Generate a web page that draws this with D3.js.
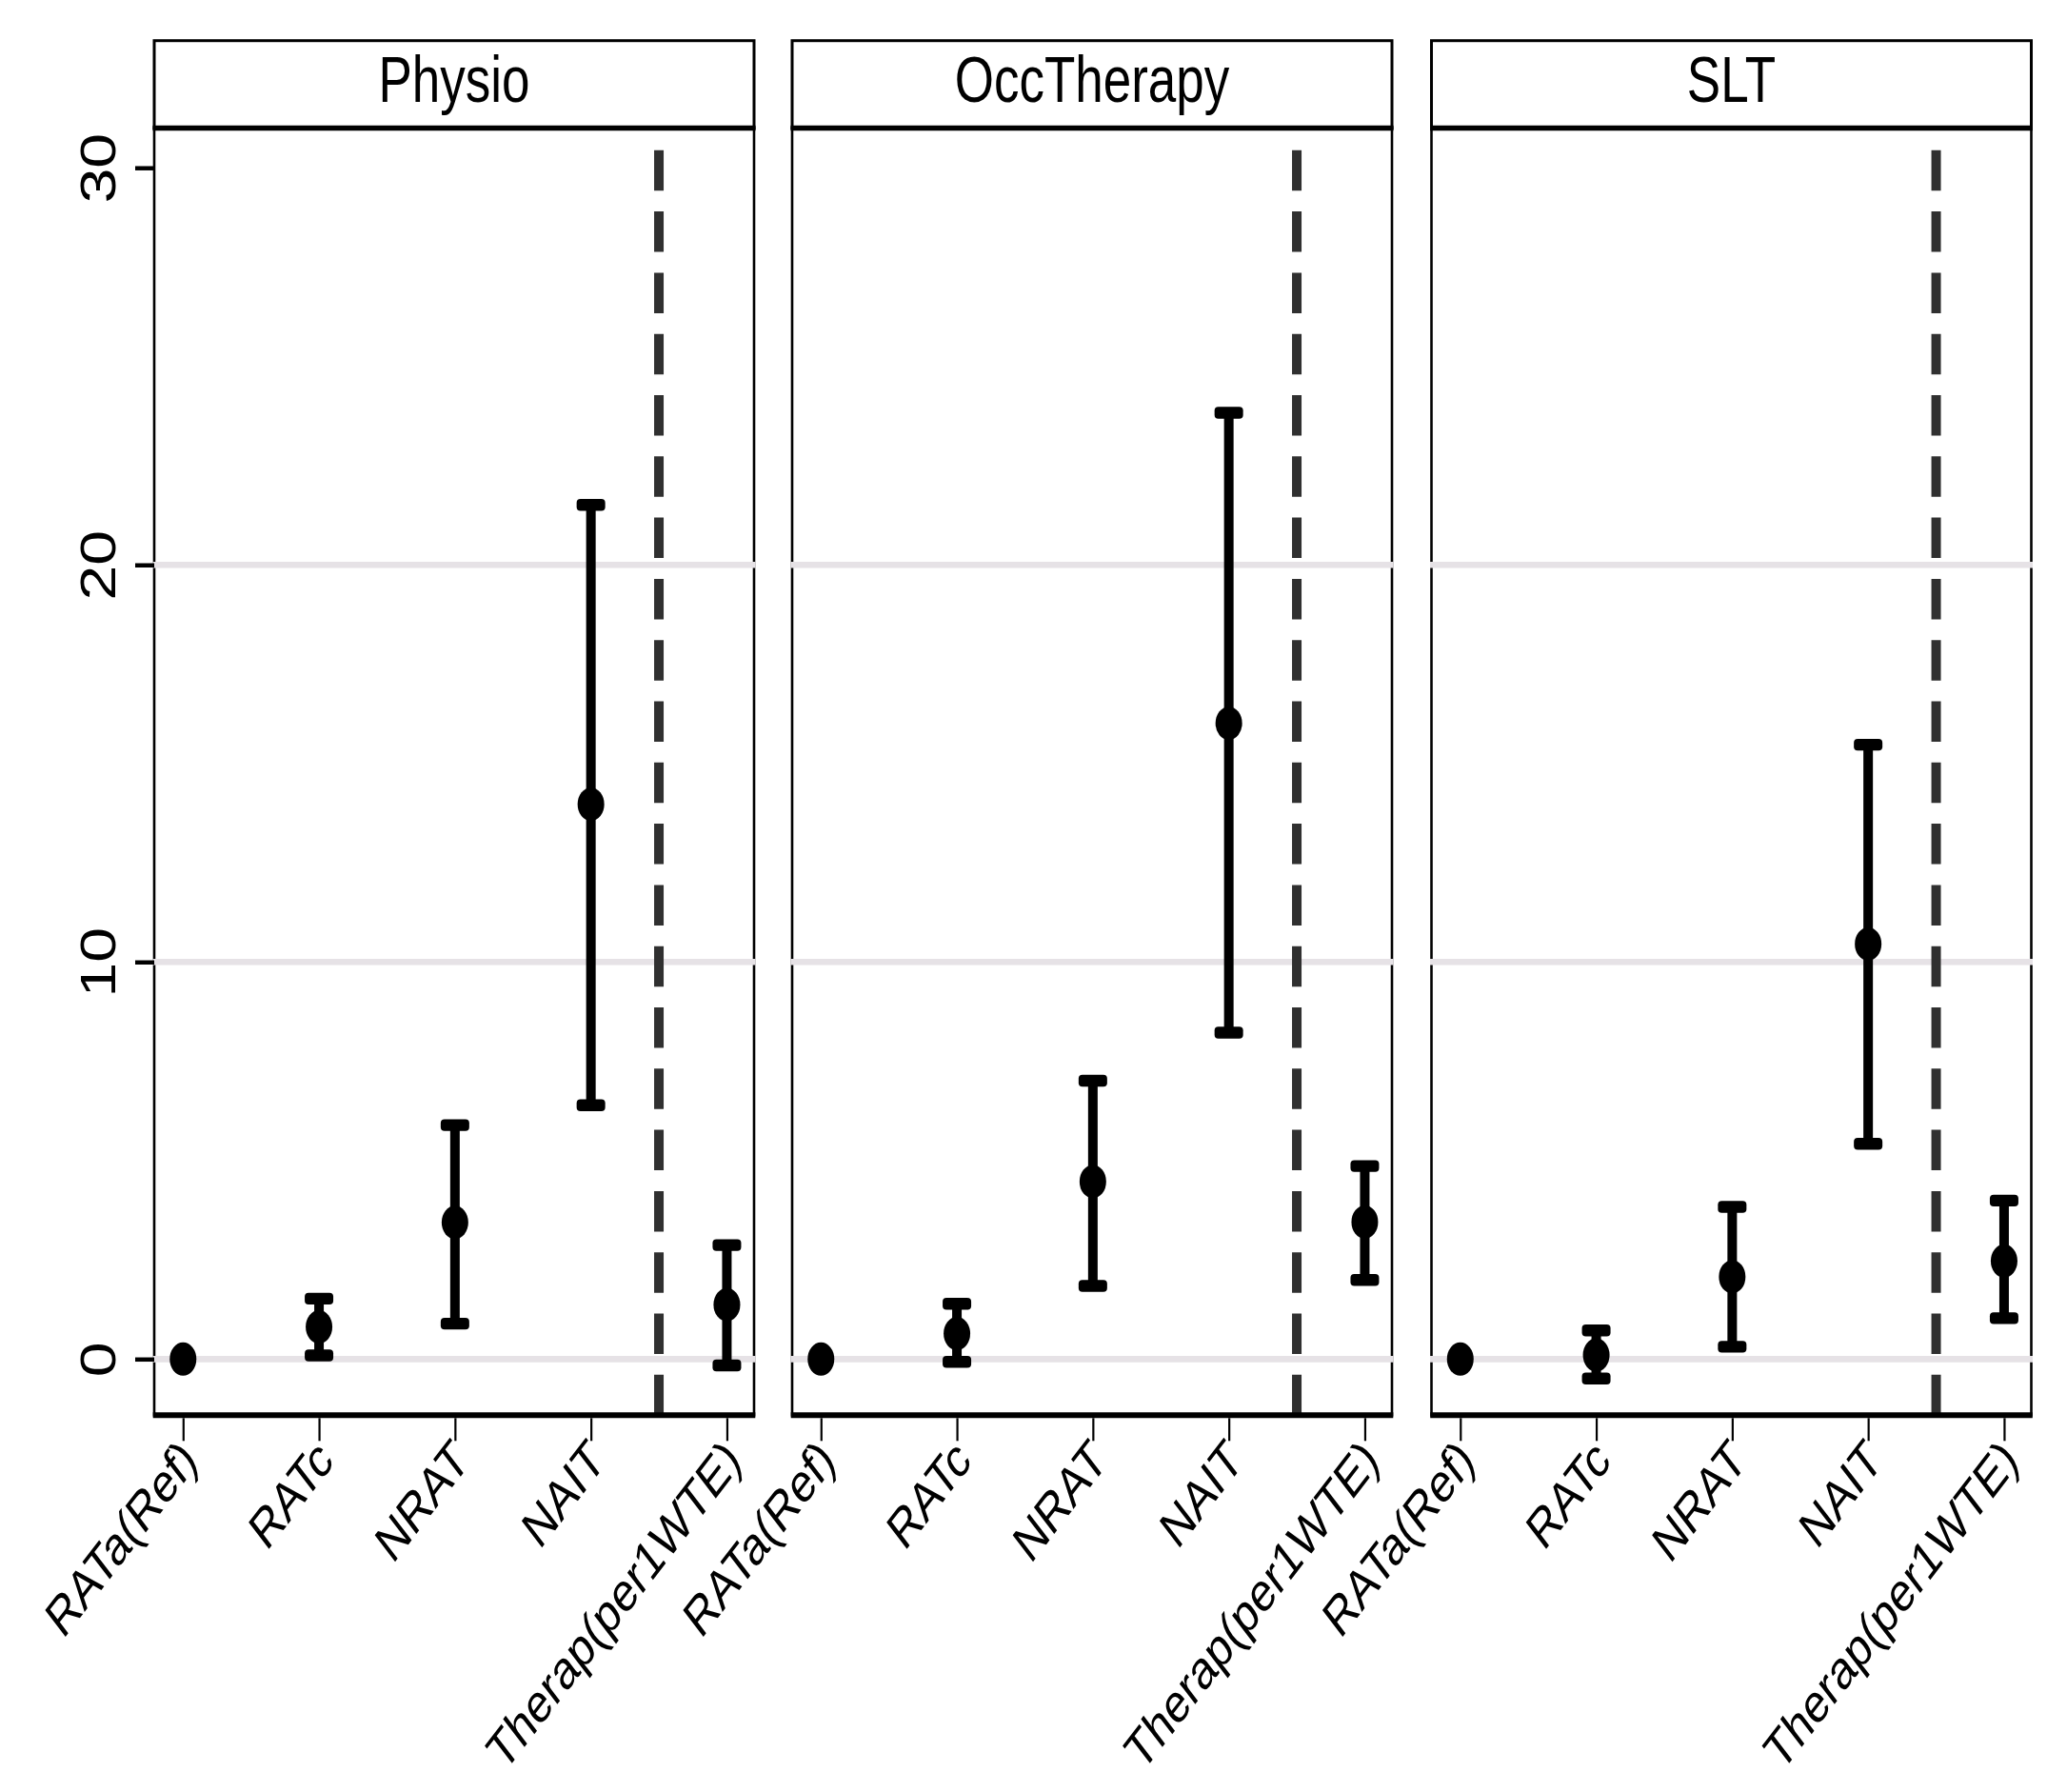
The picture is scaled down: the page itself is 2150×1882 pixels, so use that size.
<!DOCTYPE html>
<html>
<head>
<meta charset="utf-8">
<script src="https://cdn.jsdelivr.net/npm/d3@7/dist/d3.min.js"></script>
<style>
  html, body { margin: 0; padding: 0; background: #ffffff; }
  svg { display: block; }
  text { font-family: "Liberation Sans", Arial, Helvetica, sans-serif; fill: #000; }
</style>
</head>
<body>
<svg id="chart" width="2150" height="1882"></svg>
<script>
// ---------------- data ----------------
const panels = ["Physio", "OccTherapy", "SLT"];
const categories = ["RATa(Ref)", "RATc", "NRAT", "NAIT", "Therap(per1WTE)"];

const estPhysio  = [0, 0.81, 3.44, 13.97, 1.37];
const lowPhysio  = [null, 0.09, 0.89, 6.39, -0.16];
const highPhysio = [null, 1.52, 5.89, 21.51, 2.87];

const estOcc  = [0, 0.64, 4.47, 16.01, 3.45];
const lowOcc  = [null, -0.07, 1.84, 8.22, 1.99];
const highOcc = [null, 1.39, 7.01, 23.83, 4.86];

const estSLT  = [0, 0.10, 2.07, 10.45, 2.47];
const lowSLT  = [null, -0.49, 0.31, 5.42, 1.03];
const highSLT = [null, 0.72, 3.83, 15.47, 3.99];

const yTicks = [0, 10, 20, 30];
const gridValues = [0, 10, 20];
const dividerPosition = 3.5; // dashed separator between NAIT and Therap

const panelData = [
  { name: panels[0], est: estPhysio, low: lowPhysio, high: highPhysio },
  { name: panels[1], est: estOcc, low: lowOcc, high: highOcc },
  { name: panels[2], est: estSLT, low: lowSLT, high: highSLT }
];

// ---------------- layout ----------------
const panelLefts = [162, 832, 1503.5];
const panelWidth = 630;
const stripTop = 42.7, plotTop = 134.5, plotBottom = 1486.3;
const yScaleX = 1.3; // vertical stretch of text

const svg = d3.select("#chart");
svg.append("rect").attr("width", 2150).attr("height", 1882).attr("fill", "#fff");

const y = d3.scaleLinear().domain([-1.415, 31.0]).range([plotBottom, plotTop]);

panelData.forEach((p, pi) => {
  const left = panelLefts[pi];
  const right = left + panelWidth;
  const x = d3.scaleLinear().domain([-0.212, 4.2]).range([left, right]);
  const g = svg.append("g");

  // panel border
  g.append("rect")
    .attr("x", left).attr("y", plotTop)
    .attr("width", panelWidth).attr("height", plotBottom - plotTop)
    .attr("fill", "none").attr("stroke", "#000").attr("stroke-width", 2.6);

  // gridlines
  g.selectAll("line.grid").data(gridValues).join("line")
    .attr("class", "grid")
    .attr("x1", left - 1.5).attr("x2", right + 1.5)
    .attr("y1", d => y(d)).attr("y2", d => y(d))
    .attr("stroke", "#e6e2e6").attr("stroke-width", 6.7);

  // dashed divider (drawn bottom -> top)
  g.append("line")
    .attr("x1", x(dividerPosition)).attr("x2", x(dividerPosition))
    .attr("y1", plotBottom).attr("y2", plotTop)
    .attr("stroke", "#303030").attr("stroke-width", 10)
    .attr("stroke-dasharray", "42.5,21.8");

  const rows = categories.map((c, i) => ({ i, est: p.est[i], low: p.low[i], high: p.high[i] }));
  const bars = rows.filter(r => r.low !== null && r.high !== null);

  // error bar stems
  g.selectAll("line.stem").data(bars).join("line")
    .attr("class", "stem")
    .attr("x1", d => x(d.i)).attr("x2", d => x(d.i))
    .attr("y1", d => y(d.low)).attr("y2", d => y(d.high))
    .attr("stroke", "#000").attr("stroke-width", 10);

  // caps
  const caps = [];
  bars.forEach(d => { caps.push({ i: d.i, v: d.low }); caps.push({ i: d.i, v: d.high }); });
  g.selectAll("rect.cap").data(caps).join("rect")
    .attr("class", "cap")
    .attr("x", d => x(d.i) - 15).attr("y", d => y(d.v) - 6.2)
    .attr("width", 30).attr("height", 12.4)
    .attr("rx", 4).attr("ry", 4)
    .attr("fill", "#000");

  // points
  g.selectAll("ellipse.pt").data(rows).join("ellipse")
    .attr("class", "pt")
    .attr("cx", d => x(d.i)).attr("cy", d => y(d.est))
    .attr("rx", 14).attr("ry", 17.5)
    .attr("fill", "#000");

  // bottom axis line (thick)
  g.append("line")
    .attr("x1", left - 1.3).attr("x2", right + 1.3)
    .attr("y1", plotBottom).attr("y2", plotBottom)
    .attr("stroke", "#000").attr("stroke-width", 6);

  // x axis
  const xAxis = d3.axisBottom(x)
    .tickValues(d3.range(categories.length))
    .tickSize(24).tickPadding(0)
    .tickFormat(i => categories[i]);
  const xg = g.append("g").attr("transform", `translate(0,${plotBottom + 3})`).call(xAxis);
  xg.select(".domain").remove();
  xg.selectAll(".tick line").attr("stroke", "#000").attr("stroke-width", 2.2);
  xg.selectAll(".tick text")
    .attr("x", null).attr("y", null).attr("dy", "0.72em")
    .attr("text-anchor", "end")
    .attr("font-size", 44)
    .attr("font-family", "Liberation Sans, Arial, sans-serif")
    .attr("fill", "#000")
    .attr("transform", `translate(-6,18) scale(1,${yScaleX}) rotate(-45)`);

  // strip
  g.append("rect")
    .attr("x", left).attr("y", stripTop)
    .attr("width", panelWidth).attr("height", plotTop - stripTop)
    .attr("fill", "#fff").attr("stroke", "#000").attr("stroke-width", 3);
  g.append("line")
    .attr("x1", left - 1.5).attr("x2", right + 1.5)
    .attr("y1", plotTop).attr("y2", plotTop)
    .attr("stroke", "#000").attr("stroke-width", 5.5);
  g.append("text")
    .attr("transform", `translate(${(left + right) / 2},107.3) scale(1,${yScaleX})`)
    .attr("text-anchor", "middle")
    .attr("font-size", 53)
    .text(p.name);

  // y axis on first panel
  if (pi === 0) {
    const yAxis = d3.axisLeft(y).tickValues(yTicks).tickSize(20).tickFormat(d3.format("d"));
    const yg = g.append("g").attr("transform", `translate(${left},0)`).call(yAxis);
    yg.select(".domain").remove();
    yg.selectAll(".tick line").attr("stroke", "#000").attr("stroke-width", 4.5);
    yg.selectAll(".tick text")
      .attr("x", null).attr("dy", null)
      .attr("text-anchor", "middle")
      .attr("font-size", 51)
      .attr("font-family", "Liberation Sans, Arial, sans-serif")
      .attr("fill", "#000")
      .attr("transform", `translate(-41.5,0) scale(1,${yScaleX}) rotate(-90)`);
  }
});
</script>
</body>
</html>
